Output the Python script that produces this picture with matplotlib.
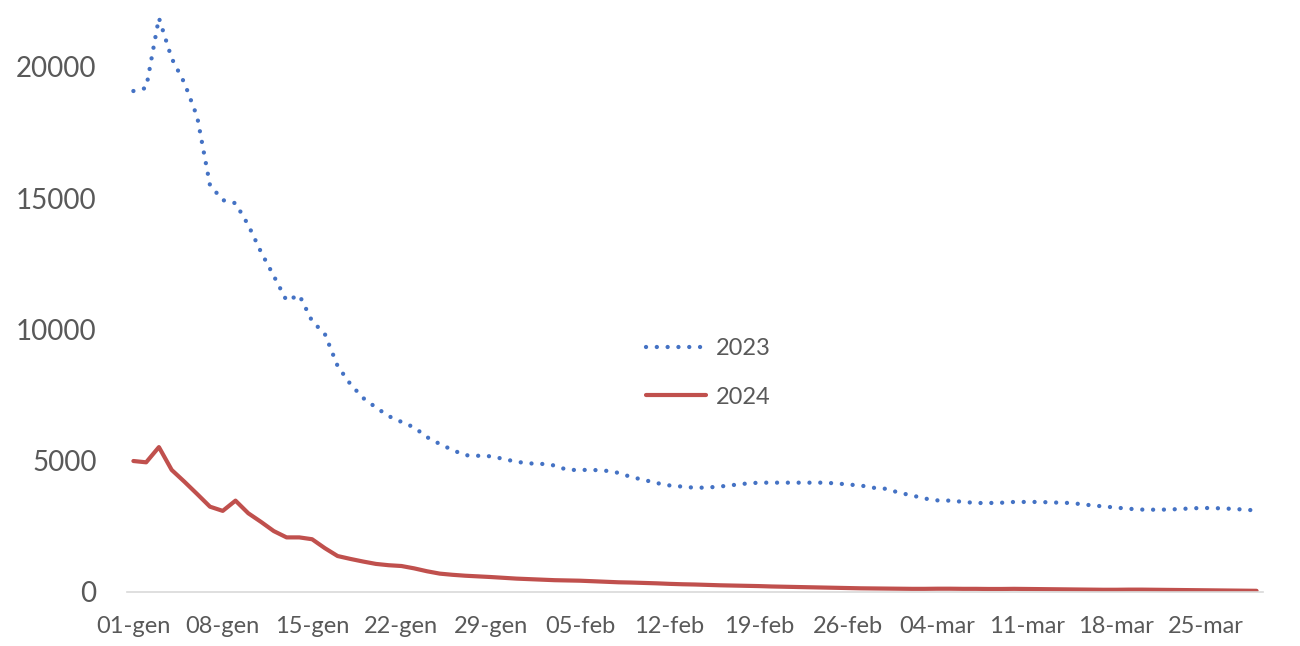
import matplotlib
matplotlib.use("Agg")
import matplotlib.pyplot as plt
import numpy as np

# daily values, 01-gen .. 29-mar
series_2023 = [
    19085, 19200, 21870, 20330, 19390, 18100, 15500, 14930, 14810, 13980,
    12950, 12040, 11100, 11310, 10320, 9830, 8610, 7920, 7390, 7030,
    6700, 6480, 6270, 5900, 5640, 5410, 5210, 5190, 5170, 5070,
    4960, 4900, 4880, 4820, 4650, 4650, 4650, 4620, 4540, 4380,
    4270, 4150, 4060, 4015, 3970, 3980, 4020, 4075, 4130, 4165,
    4165, 4165, 4165, 4165, 4165, 4140, 4095, 4055, 3970, 3930,
    3780, 3680, 3560, 3490, 3480, 3435, 3390, 3390, 3400, 3430,
    3430, 3430, 3410, 3400, 3360, 3305, 3260, 3215, 3170, 3140,
    3135, 3140, 3160, 3190, 3200, 3190, 3170, 3140, 3105,
]
series_2024 = [
    4990, 4940, 5520, 4650, 4200, 3730, 3250, 3090, 3480, 3000,
    2670, 2320, 2080, 2080, 2010, 1670, 1370, 1260, 1160, 1070,
    1020, 990, 900, 790, 700, 655, 620, 595, 570, 540,
    510, 490, 470, 450, 440, 430, 410, 390, 370, 360,
    345, 330, 310, 295, 285, 270, 255, 245, 235, 225,
    210, 200, 190, 180, 170, 160, 150, 140, 135, 130,
    125, 120, 120, 125, 125, 120, 120, 115, 115, 120,
    115, 110, 105, 100, 95, 90, 85, 85, 90, 90,
    85, 80, 75, 70, 65, 60, 55, 50, 45,
]
tick_labels = ["01-gen", "08-gen", "15-gen", "22-gen", "29-gen", "05-feb", "12-feb",
               "19-feb", "26-feb", "04-mar", "11-mar", "18-mar", "25-mar"]
legend_labels = ["2023", "2024"]

text_color = "#595959"
plt.rcParams["font.family"] = ["Lato", "DejaVu Sans"]

fig = plt.figure(figsize=(13, 6.46), dpi=100)
ax = fig.add_axes([0.0977, 0.0836, 0.8738, 0.9164])

x = np.arange(len(series_2023))
ax.plot(x, series_2023, color="#4472c4", lw=3.1, linestyle=(0, (0.01, 2.5)),
        dash_capstyle="round", label=legend_labels[0])
ax.plot(x, series_2024, color="#c0504d", lw=3.0, solid_capstyle="round",
        solid_joinstyle="round", label=legend_labels[1])

ax.set_xlim(-0.5, len(x) - 0.5)
ax.set_ylim(0, 22552)
ax.set_yticks([0, 5000, 10000, 15000, 20000])
ax.set_xticks(np.arange(0, len(x), 7))
ax.set_xticklabels(tick_labels)

ax.tick_params(axis="y", length=0, pad=22, labelsize=20, labelcolor=text_color)
ax.tick_params(axis="x", length=0, pad=17, labelsize=17, labelcolor=text_color)

for side in ["left", "right", "top"]:
    ax.spines[side].set_visible(False)
ax.spines["bottom"].set_color("#d9d9d9")
ax.spines["bottom"].set_linewidth(1.2)

leg = ax.legend(loc="center left", bbox_to_anchor=(0.457, 0.37), frameon=False,
                fontsize=17, handlelength=2.55, labelspacing=1.15, handletextpad=0.42,
                borderpad=0, borderaxespad=0)
for t in leg.get_texts():
    t.set_color(text_color)

fig.savefig("out.png", dpi=100)
